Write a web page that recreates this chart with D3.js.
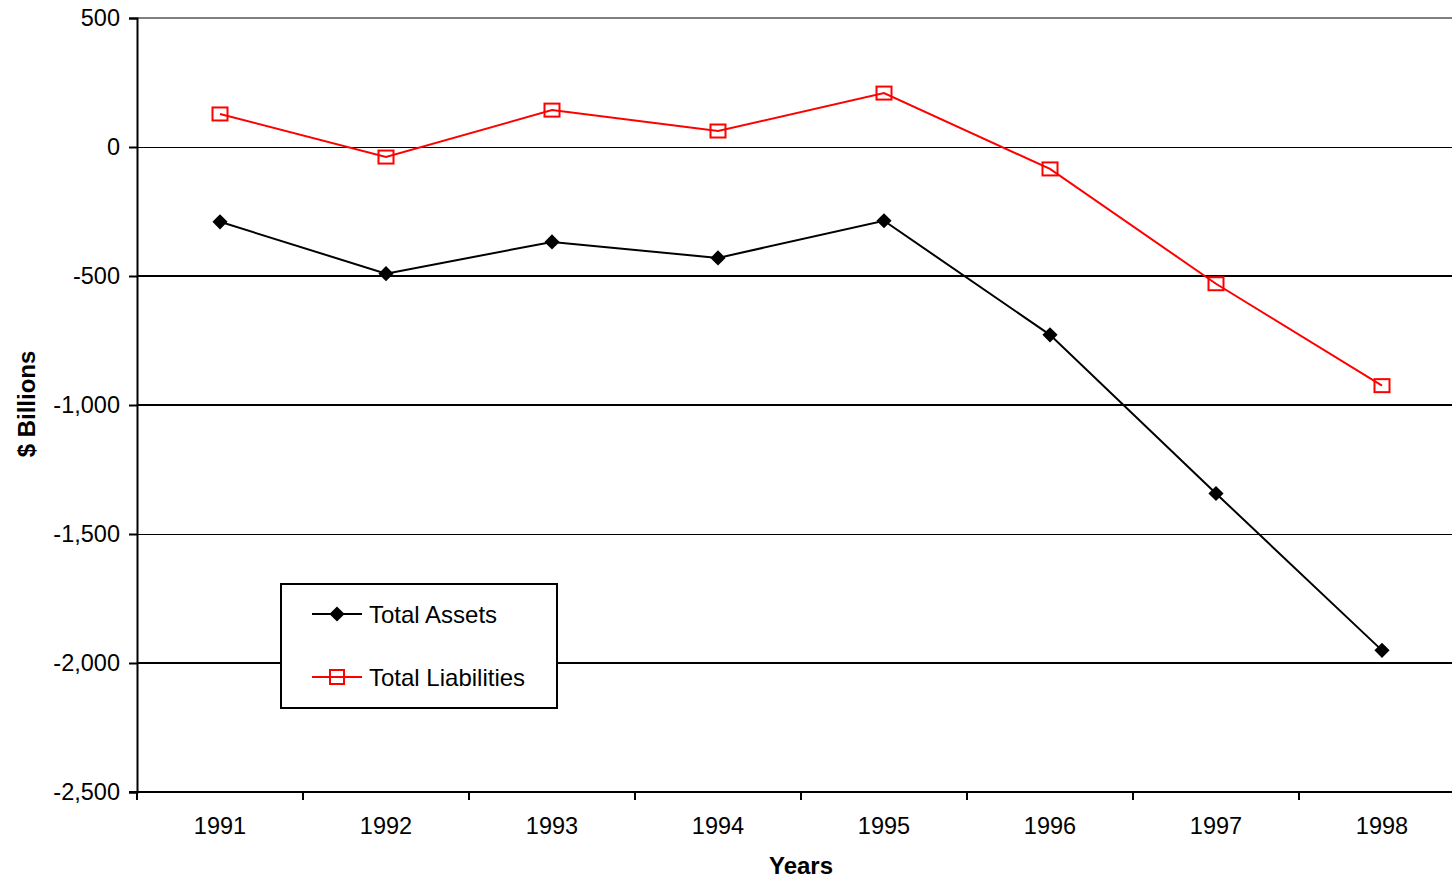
<!DOCTYPE html>
<html>
<head>
<meta charset="utf-8">
<script src="https://cdn.jsdelivr.net/npm/d3@7"></script>
<style>
html,body{margin:0;padding:0;background:#fff;overflow:hidden;}
text{font-family:"Liberation Sans",Arial,sans-serif;}
</style>
</head>
<body>
<svg id="chart" width="1452" height="878"></svg>
<script>
const years = ["1991","1992","1993","1994","1995","1996","1997","1998"];
const totalAssets = [-290, -491, -368, -430, -286, -728, -1343, -1951];
const totalLiabilities = [128, -39, 143, 62, 209, -85, -530, -925];
const yTicks = [500, 0, -500, -1000, -1500, -2000, -2500];
const seriesNames = ["Total Assets", "Total Liabilities"];

(function(){
const svg = d3.select("#chart");
const pLeft = 137, pTop = 18, pBottom = 792, bandW = 166;
const pRight = pLeft + bandW * years.length;
const FF = "Liberation Sans, Arial, sans-serif";
const tickFS = 23.5;

const x = d3.scaleBand().domain(years).range([pLeft, pRight]).padding(0);
const y = d3.scaleLinear().domain([-2500, 500]).range([pBottom, pTop]);
const cx = d => x(d) + x.bandwidth() / 2;
const fmt = d3.format(",");

// gridlines
svg.append("g").selectAll("line").data(yTicks.filter(t => t !== 500 && t !== -2500)).join("line")
  .attr("x1", pLeft).attr("x2", pRight)
  .attr("y1", d => y(d)).attr("y2", d => y(d))
  .attr("stroke", "#000").attr("stroke-width", d => (d === 0 || d === -1500) ? 1 : 2)
  .attr("shape-rendering", "crispEdges");
// top border
svg.append("line").attr("x1", pLeft).attr("x2", pRight).attr("y1", y(500)).attr("y2", y(500))
  .attr("stroke", "#808080").attr("stroke-width", 2).attr("shape-rendering", "crispEdges");

// y axis
const yAxis = d3.axisLeft(y).tickValues(yTicks).tickSize(8).tickPadding(9)
  .tickFormat(d => fmt(d).replace("\u2212", "-"));
const gy = svg.append("g").attr("transform", `translate(${pLeft},0)`).call(yAxis);
gy.select(".domain").attr("stroke", "#000").attr("stroke-width", 2);
gy.selectAll(".tick line").attr("stroke", "#000").attr("stroke-width", 2);
gy.selectAll(".tick text").attr("font-size", tickFS).attr("fill", "#000").attr("font-family", FF);

// x axis
const xAxis = d3.axisBottom(x).tickSize(0).tickPadding(25);
const gx = svg.append("g").attr("transform", `translate(0,${pBottom})`).call(xAxis);
gx.select(".domain").remove();
gx.selectAll(".tick text").attr("font-size", tickFS).attr("fill", "#000").attr("font-family", FF);
svg.append("line").attr("x1", pLeft - 8).attr("x2", pRight).attr("y1", pBottom).attr("y2", pBottom)
  .attr("stroke", "#000").attr("stroke-width", 2);
// boundary ticks
const bounds = years.map(d => x(d)).concat([pRight]);
svg.append("g").selectAll("line").data(bounds).join("line")
  .attr("x1", d => d).attr("x2", d => d).attr("y1", pBottom).attr("y2", pBottom + 8)
  .attr("stroke", "#000").attr("stroke-width", 2);

// axis titles
svg.append("text").attr("x", 801).attr("y", 874).attr("text-anchor", "middle")
  .attr("font-size", 24).attr("font-weight", "bold").text("Years");
svg.append("text").attr("transform", "translate(35,404) rotate(-90)").attr("text-anchor", "middle")
  .attr("font-size", 24).attr("font-weight", "bold").text("$ Billions");

// lines
const line = d3.line().x((d, i) => cx(years[i])).y(d => y(d));
svg.append("path").datum(totalAssets).attr("d", line).attr("fill", "none")
  .attr("stroke", "#000").attr("stroke-width", 2);
svg.append("path").datum(totalLiabilities).attr("d", line).attr("fill", "none")
  .attr("stroke", "#ff0000").attr("stroke-width", 2);

const diamond = d3.symbol().type(d3.symbolSquare).size(115);
svg.append("g").selectAll("path").data(totalAssets).join("path")
  .attr("d", diamond)
  .attr("transform", (d, i) => `translate(${cx(years[i])},${y(d)}) rotate(45)`)
  .attr("fill", "#000");
svg.append("g").selectAll("rect").data(totalLiabilities).join("rect")
  .attr("x", (d, i) => cx(years[i]) - 7.5).attr("y", d => y(d) - 6.5)
  .attr("width", 15).attr("height", 13)
  .attr("fill", "none").attr("stroke", "#ff0000").attr("stroke-width", 2);

// legend
const lg = svg.append("g");
lg.append("rect").attr("x", 281).attr("y", 584).attr("width", 276).attr("height", 124)
  .attr("fill", "#fff").attr("stroke", "#000").attr("stroke-width", 2);
const ly = [614, 677];
lg.append("line").attr("x1", 312).attr("x2", 362).attr("y1", ly[0]).attr("y2", ly[0])
  .attr("stroke", "#000").attr("stroke-width", 2);
lg.append("path").attr("d", diamond).attr("transform", `translate(337,${ly[0]}) rotate(45)`).attr("fill", "#000");
lg.append("line").attr("x1", 312).attr("x2", 362).attr("y1", ly[1]).attr("y2", ly[1])
  .attr("stroke", "#ff0000").attr("stroke-width", 2);
lg.append("rect").attr("x", 330).attr("y", ly[1] - 7).attr("width", 14).attr("height", 14)
  .attr("fill", "none").attr("stroke", "#ff0000").attr("stroke-width", 2);
lg.selectAll("text.lab").data(seriesNames).join("text").attr("class", "lab")
  .attr("x", 369).attr("y", (d, i) => ly[i] + 9).attr("font-size", 24).attr("fill", "#000").text(d => d);
})();
</script>
</body>
</html>
